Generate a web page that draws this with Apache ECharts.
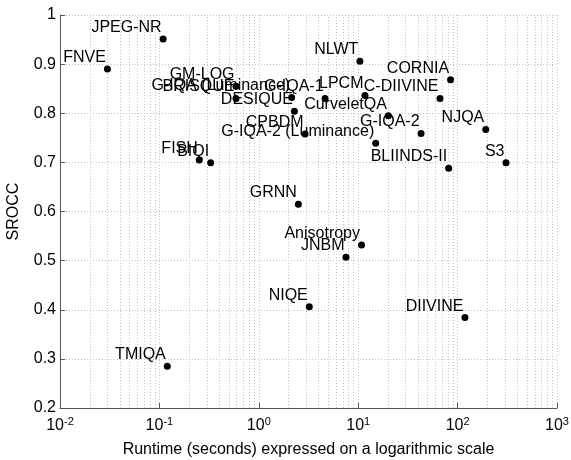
<!DOCTYPE html>
<html>
<head>
<meta charset="utf-8">
<script src="https://cdn.jsdelivr.net/npm/echarts@6/dist/echarts.min.js"></script>
<style>
html,body{margin:0;padding:0;background:#fff;}
#chart{width:571px;height:460px;}
</style>
</head>
<body>
<div id="chart"></div>
<script>
var names = ['JPEG-NR','FNVE','GM-LOG','BRISQUE','G-IQA (Luminance)','DESIQUE','G-IQA-1','LPCM','C-DIIVINE','NLWT','CORNIA','CurveletQA','G-IQA-2','CPBDM','G-IQA-2 (Luminance)','NJQA','BLIINDS-II','S3','FISH','BIQI','GRNN','Anisotropy','JNBM','NIQE','DIIVINE','TMIQA'];
var runtimes = [0.109,0.030,0.59,0.59,2.14,2.28,4.64,11.7,66.5,10.4,85,20.1,42.9,2.92,15.0,192,81.3,307,0.252,0.328,2.50,10.8,7.54,3.22,118.6,0.120];
var srocc = [0.951,0.890,0.855,0.830,0.832,0.804,0.830,0.836,0.830,0.906,0.868,0.795,0.759,0.758,0.739,0.767,0.688,0.699,0.705,0.699,0.615,0.532,0.507,0.406,0.384,0.285];
var minorGridX = [0.02,0.03,0.04,0.05,0.06,0.07,0.08,0.09,0.2,0.3,0.4,0.5,0.6,0.7,0.8,0.9,2,3,4,5,6,7,8,9,20,30,40,50,60,70,80,90,200,300,400,500,600,700,800,900];
var xName = 'Runtime (seconds) expressed on a logarithmic scale';
var yName = 'SROCC';

var FONT = 'Liberation Sans, Arial, Helvetica, sans-serif';
var gridStyle = {color:'#c4c4c4', width:1, type:[1,2]};

var data = names.map(function(n,i){ return {name:n, value:[runtimes[i], srocc[i]]}; });

var chart = echarts.init(document.getElementById('chart'), null, {renderer:'canvas'});
chart.setOption({
  animation:false,
  backgroundColor:'#fff',
  grid:{left:60, right:14, top:15, bottom:52, containLabel:false, outerBoundsMode:'none'},
  xAxis:{
    type:'log', logBase:10, min:0.01, max:1000,
    name:xName, nameLocation:'middle', nameGap:34,
    nameTextStyle:{fontFamily:FONT, fontSize:16, color:'#000'},
    axisLine:{show:true, onZero:false, lineStyle:{color:'#555', width:1}},
    axisTick:{show:true, inside:true, length:5, lineStyle:{color:'#555'}},
    splitLine:{show:true, lineStyle:gridStyle},
    axisLabel:{
      margin:8, color:'#000', fontFamily:FONT,
      formatter:function(v){ var e = Math.round(Math.log10(v)); return '{b|10}{s|' + e + '}'; },
      rich:{
        b:{fontSize:16, fontFamily:FONT, color:'#000'},
        s:{fontSize:11, fontFamily:FONT, color:'#000', padding:[0,0,9,0]}
      }
    }
  },
  yAxis:{
    type:'value', min:0.2, max:1, interval:0.1,
    name:yName, nameLocation:'middle', nameGap:38, nameRotate:90,
    nameTextStyle:{fontFamily:FONT, fontSize:16, color:'#000'},
    axisLine:{show:true, lineStyle:{color:'#555', width:1}},
    axisTick:{show:true, inside:true, length:5, lineStyle:{color:'#555'}},
    splitLine:{show:true, lineStyle:gridStyle},
    axisLabel:{
      margin:4, color:'#000', fontFamily:FONT, fontSize:16,
      formatter:function(v){ return String(+v.toFixed(1)); }
    }
  },
  series:[{
    type:'scatter',
    data:data,
    symbol:'circle',
    symbolSize:7,
    itemStyle:{color:'#000', opacity:1},
    label:{
      show:true,
      formatter:'{b}',
      position:[2,0],
      align:'right',
      verticalAlign:'bottom',
      fontFamily:FONT, fontSize:16, color:'#000'
    },
    labelLayout:{hideOverlap:false},
    emphasis:{disabled:true},
    markLine:{
      silent:true, symbol:['none','none'],
      label:{show:false},
      lineStyle:gridStyle,
      emphasis:{disabled:true},
      data:minorGridX.map(function(v){ return {xAxis:v}; })
    },
    z:5
  }]
});
</script>
</body>
</html>
